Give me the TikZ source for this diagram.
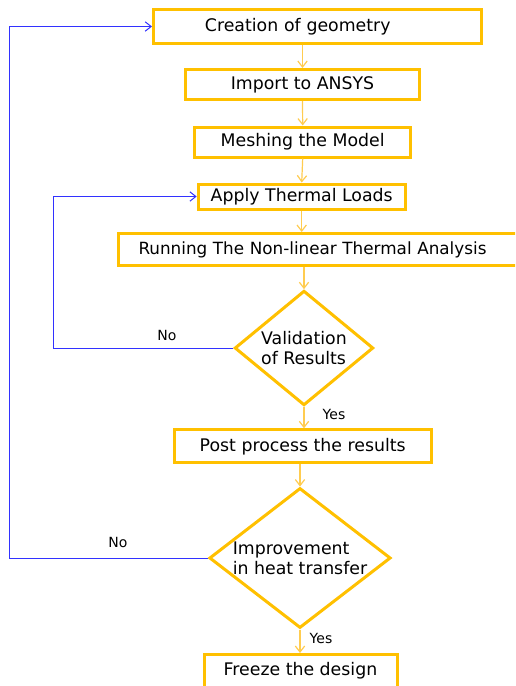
\documentclass[tikz,border=0pt]{standalone}
\usepackage{fontspec}
\setmainfont{DejaVu Sans}
\usetikzlibrary{shapes.geometric,arrows.meta}
\definecolor{boxorange}{RGB}{255,192,0}
\definecolor{lineorange}{RGB}{255,204,80}
\definecolor{loopblue}{RGB}{50,50,255}

\begin{document}
\begin{tikzpicture}[x=0.75pt, y=-0.75pt,
  block/.style={draw=boxorange, line width=2.25pt, fill=white, rectangle, inner sep=1pt, font=\fontsize{13}{15}\selectfont},
  decision/.style={draw=boxorange, line width=2.25pt, fill=white, diamond, aspect=1.25, inner xsep=-12pt, inner ysep=0pt, align=left, font=\fontsize{13}{15}\selectfont},
  flow/.style={draw=lineorange, line width=0.9pt, -{Straight Barb[length=4.5pt,width=7pt]}},
  back/.style={draw=loopblue, line width=0.75pt, -{Straight Barb[length=4.5pt,width=7pt]}},
  lbl/.style={font=\fontsize{10.5}{12}\selectfont, inner sep=0pt}]
  \useasboundingbox (0,0) rectangle (515,686);
  \clip (0,0) rectangle (515,686);
  \fill [white] (0,0) rectangle (515,686);

  % main chain
  \node [block, align=left, inner xsep=38.6pt, text width=168.8pt, minimum height=25.5pt] (geom) at (317.5,26.5) {Creation of geometry};
  \node [block, minimum width=175.5pt, minimum height=22.5pt] (ansys) at (302.5,84.5) {Import to ANSYS};
  \node [block, minimum width=162pt, minimum height=22.5pt] (mesh) at (302.7,142) {Meshing the Model};
  \node [block, minimum width=155.25pt, minimum height=18.75pt] (loads) at (301.7,196.5) {Apply Thermal Loads};
  \node [block, font=\fontsize{12.6}{15}\selectfont, align=left, inner xsep=15pt, text width=270pt, minimum height=24pt] (solve) at (318.5,249.5) {Running The Non-linear Thermal Analysis};
  \node [decision, minimum width=104pt, minimum height=86pt] (valid) at (304,348) {Validation\\of Results};
  \node [block, minimum width=192.75pt, minimum height=24.75pt] (post) at (302.7,446.3) {Post process the results};
  \node [decision, minimum width=136pt, minimum height=105pt] (improve) at (300,558) {Improvement\\in heat transfer};
  \node [block, minimum width=144.75pt, minimum height=24.75pt] (freeze) at (300.5,671) {Freeze the design};

  \draw [flow] (geom.south -| ansys.north) -- (ansys.north);
  \draw [flow] (ansys.south) -- (mesh.north);
  \draw [flow] (mesh.south) -- (loads.north);
  \draw [flow] (loads.south) -- (loads.south |- solve.north);
  \draw [flow] (solve.south -| valid.north) -- (valid.north);
  \draw [flow] (valid.south) -- (valid.south |- post.north);
  \draw [flow] (post.south -| improve.north) -- (improve.north);
  \draw [flow] (improve.south) -- (improve.south |- freeze.north);

  % loops back
  \draw [back] (valid.west) -- ++(-180,0) |- (loads.west);
  \draw [back] (improve.west) -- ++(-198,0) |- (geom.west);

  \node [lbl] (no1) at (167,335) {No};
  \node [lbl] (yes1) at (334,414) {Yes};
  \node [lbl] (no2) at (118,542) {No};
  \node [lbl] (yes2) at (321,638) {Yes};
\end{tikzpicture}
\end{document}
